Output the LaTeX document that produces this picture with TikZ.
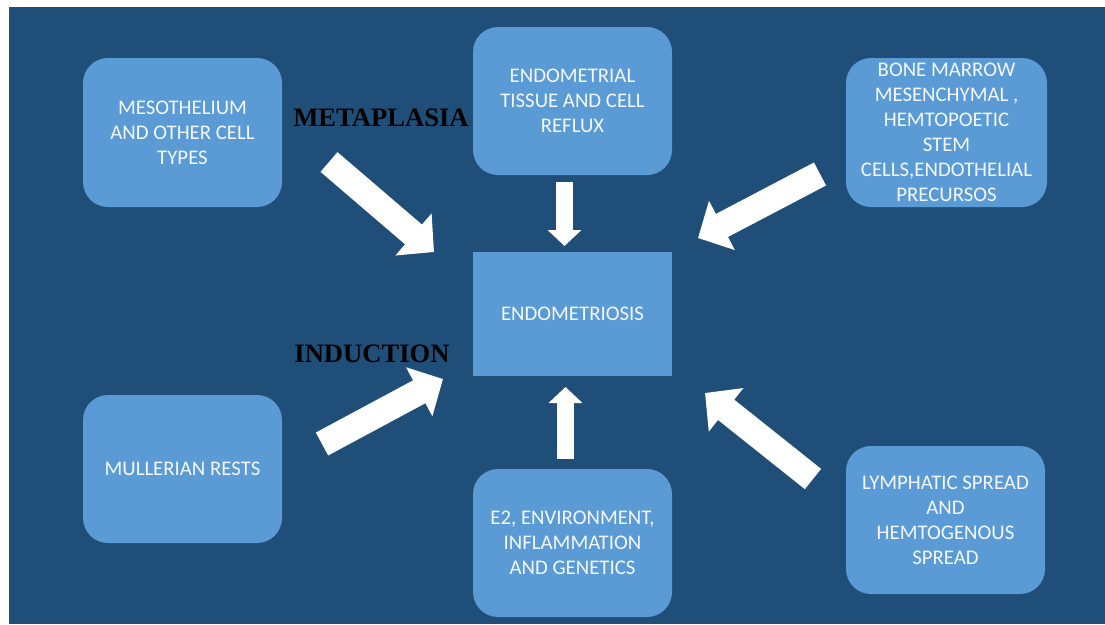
\documentclass[tikz,border=0pt]{standalone}
\usepackage{fontspec}
\setmainfont{Carlito}
\newfontfamily\headfont{Liberation Serif}
\usetikzlibrary{arrows.meta}
\definecolor{bgblue}{HTML}{1F4E79}
\definecolor{boxblue}{HTML}{5B9BD5}
\definecolor{txtwhite}{HTML}{F4F7FB}
\tikzset{
  box/.style={fill=boxblue, draw=none, rounded corners=25pt, text=txtwhite,
    align=center, inner sep=0pt, minimum width=199pt, minimum height=149pt,
    font=\fontsize{20.8}{25}\selectfont},
  sqbox/.style={box, rounded corners=0pt, minimum height=124pt},
  bigarrow/.style={white, line width=26pt, line cap=butt,
    -{Triangle[width=54pt,length=27pt]}},
  smallarrow/.style={white, line width=17pt, line cap=butt,
    -{Triangle[width=33pt,length=16pt]}},
  headlabel/.style={font=\headfont\bfseries\fontsize{26.6}{30}\selectfont, text=black, inner sep=0pt, anchor=base}
}
\begin{document}
\begin{tikzpicture}[x=1pt,y=-1pt]
\useasboundingbox (0,0) rectangle (1105,624);
\fill[bgblue] (9,7) rectangle (1105,624);
% boxes
\node[box] (meso) at (182.5,132.5) {MESOTHELIUM\\AND OTHER CELL\\TYPES};
\node[box, minimum height=148pt] (reflux) at (572.5,101) {ENDOMETRIAL\\TISSUE AND CELL\\REFLUX};
\node[box, minimum width=201pt] (bone) at (946.5,132.5) {BONE MARROW\\MESENCHYMAL ,\\HEMTOPOETIC\\STEM\\CELLS,ENDOTHELIAL\\PRECURSOS};
\node[sqbox] (endo) at (572.5,314) {ENDOMETRIOSIS};
\node[box, minimum height=148pt] (mull) at (182.5,469) {MULLERIAN RESTS};
\node[box, minimum height=148pt] (e2) at (572.5,543) {E2, ENVIRONMENT,\\INFLAMMATION\\AND GENETICS};
\node[box, minimum height=148pt] (lymph) at (945.5,520) {LYMPHATIC SPREAD\\AND\\HEMTOGENOUS\\SPREAD};
% labels
\node[headlabel] (meta) at (381,126) {METAPLASIA};
\node[headlabel] (ind) at (372,362) {INDUCTION};
% arrow end points
\coordinate (a1s) at (329,162); \coordinate (a1e) at (434,252);
\coordinate (a2s) at (564.5,182); \coordinate (a2e) at (564.5,246);
\coordinate (a3s) at (820,174); \coordinate (a3e) at (698,238);
\coordinate (a4s) at (322,444); \coordinate (a4e) at (443,379);
\coordinate (a5s) at (565.5,459); \coordinate (a5e) at (565.5,387);
\coordinate (a6s) at (813,479); \coordinate (a6e) at (705,393);
\draw[bigarrow] (a1s) -- (a1e);
\draw[smallarrow] (a2s) -- (a2e);
\draw[bigarrow] (a3s) -- (a3e);
\draw[bigarrow] (a4s) -- (a4e);
\draw[smallarrow] (a5s) -- (a5e);
\draw[bigarrow] (a6s) -- (a6e);
\end{tikzpicture}
\end{document}
